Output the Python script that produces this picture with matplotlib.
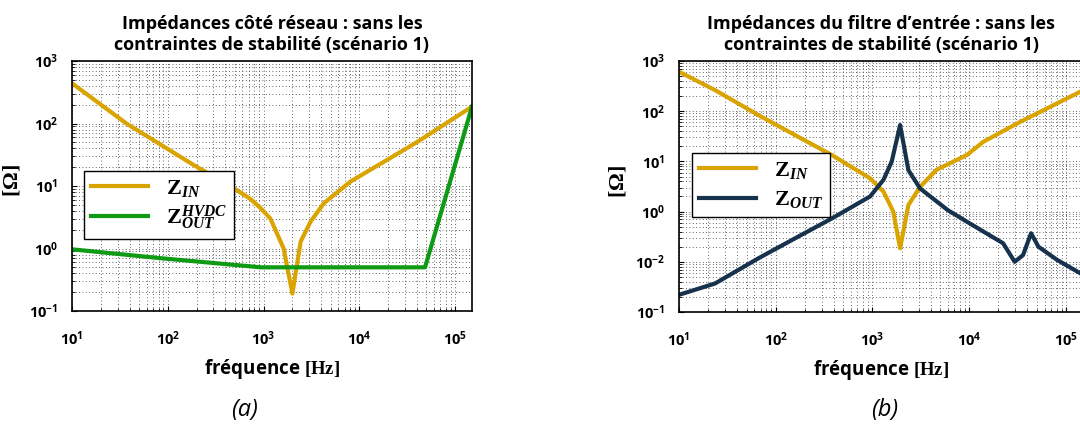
import matplotlib
matplotlib.use('Agg')
import matplotlib.pyplot as plt
from matplotlib.ticker import LogLocator, NullFormatter

plt.rcParams['font.family'] = ['Open Sans', 'DejaVu Sans']
plt.rcParams['mathtext.fontset'] = 'custom'
plt.rcParams['mathtext.rm'] = 'Liberation Serif:bold'
plt.rcParams['mathtext.bf'] = 'Liberation Serif:bold'
plt.rcParams['mathtext.it'] = 'Liberation Serif:bold:italic'
plt.rcParams['mathtext.sf'] = 'Open Sans:bold'

# --- data (a) : cote reseau
freq_a_in = [10, 37, 186, 490, 730, 935, 1180, 1620, 2000, 2440, 3100, 4260, 8100, 18200, 40500, 150000]
z_a_in = [440, 100, 21.7, 9.2, 6.2, 4.4, 3.0, 1.0, 0.19, 1.29, 2.7, 5.3, 11.8, 24.6, 51, 186]
freq_a_out = [10, 84, 935, 48500, 150000]
z_a_out = [0.97, 0.70, 0.50, 0.50, 186]

# --- data (b) : filtre d'entree
freq_b_in = [10, 23.6, 66, 170, 380, 944, 1300, 1640, 1930, 2350, 3100, 4600, 9450, 14000, 34000, 150000]
z_b_in = [612, 263, 84, 31, 13.4, 4.6, 2.5, 1.0, 0.186, 1.35, 3.1, 6.8, 13.4, 24.6, 62, 260]
freq_b_out = [10, 23.6, 66, 170, 380, 944, 1300, 1580, 1930, 2350, 3100, 6000, 9450,
              22400, 29500, 36000, 43600, 51900, 80500, 150000]
z_b_out = [0.022, 0.037, 0.117, 0.316, 0.73, 2.0, 4.3, 9.9, 53, 6.7, 2.9, 1.07, 0.63,
           0.234, 0.10, 0.136, 0.37, 0.2, 0.11, 0.055]

xticks = [1e1, 1e2, 1e3, 1e4, 1e5]
xlabels = [r'$\mathsf{10^{%d}}$' % e for e in [1, 2, 3, 4, 5]]
yticks_a = [1e-1, 1e0, 1e1, 1e2, 1e3]
ylabels_a = [r'$\mathsf{10^{%d}}$' % e for e in [-1, 0, 1, 2, 3]]
yticks_b = [1e-2, 1e-1, 1e0, 1e1, 1e2, 1e3]
ylabels_b = [r'$\mathsf{10^{%d}}$' % e for e in [-1, -2, 0, 1, 2, 3]]

GOLD = '#D9A300'
GREEN = '#0E9A12'
NAVY = '#17324D'

W, H = 1080, 426
fig = plt.figure(figsize=(10.8, 4.26), dpi=100)


def setup(ax, ylim, yticks, ylabels, title):
    ax.set_xscale('log')
    ax.set_yscale('log')
    ax.set_xlim(10, 1.5e5)
    ax.set_ylim(*ylim)
    ax.set_xticks(xticks, xlabels)
    ax.set_yticks(yticks, ylabels)
    ax.xaxis.set_minor_locator(LogLocator(base=10, subs=range(2, 10), numticks=20))
    ax.yaxis.set_minor_locator(LogLocator(base=10, subs=range(2, 10), numticks=20))
    ax.xaxis.set_minor_formatter(NullFormatter())
    ax.yaxis.set_minor_formatter(NullFormatter())
    ax.tick_params(which='both', direction='in', labelsize=10.5)
    ax.tick_params(axis='x', which='major', pad=14)
    ax.tick_params(axis='y', which='major', pad=10)
    ax.grid(True, which='both', color='#333333', linestyle=(0, (1, 3)), linewidth=0.6)
    for s in ax.spines.values():
        s.set_linewidth(1.2)
    ax.set_title(title, fontsize=13, fontweight='bold', pad=8, linespacing=1.2)
    ax.set_xlabel(r'fréquence $\mathbf{[Hz]}$', fontsize=13.5, fontweight='bold', labelpad=6)
    ax.set_ylabel(r'$\mathbf{[\Omega]}$', fontsize=16)
    ax.yaxis.set_label_coords(-0.125, 0.52)


ax1 = fig.add_axes([72 / W, 1 - 311 / H, 400 / W, 250 / H])
setup(ax1, (1e-1, 1e3), yticks_a, ylabels_a,
      'Impédances côté réseau : sans les\ncontraintes de stabilité (scénario 1)')
ax1.plot(freq_a_in, z_a_in, color=GOLD, lw=3, label=r'$\mathbf{Z}_{IN}$')
ax1.plot(freq_a_out, z_a_out, color=GREEN, lw=3, label=r'$\mathbf{Z}_{OUT}^{HVDC}$')
leg1 = ax1.legend(loc='lower left', bbox_to_anchor=(0.03, 0.288), borderaxespad=0,
                  fontsize=16, fancybox=False, edgecolor='black', framealpha=1,
                  handlelength=2.6, labelspacing=0.2, borderpad=0.3)
leg1.get_frame().set_linewidth(1.0)

ax2 = fig.add_axes([679 / W, 1 - 312 / H, 404 / W, 251 / H])
setup(ax2, (1e-2, 1e3), yticks_b, ylabels_b,
      'Impédances du filtre d\u2019entrée : sans les\ncontraintes de stabilité (scénario 1)')
ax2.plot(freq_b_in, z_b_in, color=GOLD, lw=3, label=r'$\mathbf{Z}_{IN}$')
ax2.plot(freq_b_out, z_b_out, color=NAVY, lw=3, label=r'$\mathbf{Z}_{OUT}$')
leg2 = ax2.legend(loc='lower left', bbox_to_anchor=(0.032, 0.378), borderaxespad=0,
                  fontsize=16, fancybox=False, edgecolor='black', framealpha=1,
                  handlelength=2.6, labelspacing=0.4, borderpad=0.3)
leg2.get_frame().set_linewidth(1.0)

fig.text(245 / W, 1 - 410 / H, '(a)', fontsize=17, style='italic', ha='center', va='center')
fig.text(885 / W, 1 - 410 / H, '(b)', fontsize=17, style='italic', ha='center', va='center')

fig.savefig('out.png', dpi=100)
